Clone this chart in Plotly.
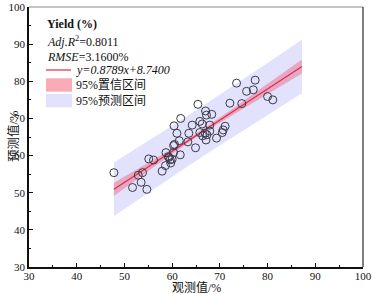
import plotly.graph_objects as go

# ---- data ----
measured = [47.8, 51.7, 52.9, 53.8, 53.5, 54.7, 55.1, 56.1, 57.9, 58.6,
            58.7, 59.2, 59.7, 59.6, 60.3, 60.3, 60.5, 61.7, 61.5, 61.0,
            60.4, 61.8, 63.3, 63.5, 64.2, 64.9, 65.4, 65.8, 66.3, 65.8,
            66.4, 67.0, 67.2, 67.1, 67.9, 68.3, 69.3, 70.5, 70.7, 71.1,
            72.1, 73.5, 74.6, 75.6, 77.0, 77.4, 80.0, 81.1, 59.3, 60.0,
            66.9, 67.9, 67.3]
predicted = [55.4, 51.4, 54.7, 55.4, 52.8, 50.9, 59.1, 58.8, 55.8, 57.3,
             60.8, 59.7, 58.0, 58.9, 60.8, 62.7, 63.0, 60.2, 64.0, 66.0,
             68.0, 70.0, 63.7, 66.0, 68.2, 62.1, 73.8, 69.2, 68.5, 66.2,
             65.3, 72.0, 70.9, 64.2, 68.2, 71.1, 64.7, 66.2, 66.9, 67.9,
             74.1, 79.5, 74.0, 77.3, 77.7, 80.3, 75.9, 75.0, 59.5, 59.0,
             66.0, 66.6, 65.6]

# fitted line as drawn in the picture
fit_slope = 0.84
fit_intercept = 10.75
band_x = [47.8, 52, 56, 60, 64, 68, 72, 76, 80, 84, 87.2]
conf_half = [1.8, 1.4, 1.0, 0.7, 0.55, 0.6, 0.8, 1.1, 1.4, 1.7, 1.9]
pred_half = [7.2, 7.0, 6.9, 6.85, 6.8, 6.8, 6.85, 6.9, 7.0, 7.1, 7.2]

x_ticks = [30, 40, 50, 60, 70, 80, 90, 100]
y_ticks = [30, 40, 50, 60, 70, 80, 90, 100]

stat_title = "Yield (%)"
adj_r2 = "0.8011"
rmse = "3.1600%"
equation = "y=0.8789x+8.7400"
conf_label = "95%置信区间"
pred_label = "95%预测区间"
x_title = "观测值/%"
y_title = "预测值/%"

# ---- derived ----
fit_y = [fit_slope * v + fit_intercept for v in band_x]
pred_lo = [f - h for f, h in zip(fit_y, pred_half)]
pred_hi = [f + h for f, h in zip(fit_y, pred_half)]
conf_lo = [f - h for f, h in zip(fit_y, conf_half)]
conf_hi = [f + h for f, h in zip(fit_y, conf_half)]

PRED_COL = "rgba(226,226,252,1)"
CONF_COL = "rgba(235,85,120,0.42)"
LINE_COL = "#E8283C"
SERIF = "Liberation Serif, Times New Roman, Noto Sans CJK SC, serif"
CJK = "Liberation Serif, Noto Sans CJK SC, serif"

fig = go.Figure()
fig.add_trace(go.Scatter(x=band_x + band_x[::-1], y=pred_hi + pred_lo[::-1],
                         fill="toself", fillcolor=PRED_COL, line=dict(width=0),
                         mode="lines", hoverinfo="skip", showlegend=False))
fig.add_trace(go.Scatter(x=band_x + band_x[::-1], y=conf_hi + conf_lo[::-1],
                         fill="toself", fillcolor=CONF_COL, line=dict(width=0),
                         mode="lines", hoverinfo="skip", showlegend=False))
fig.add_trace(go.Scatter(x=band_x, y=fit_y, mode="lines",
                         line=dict(color=LINE_COL, width=1.2), showlegend=False))
fig.add_trace(go.Scatter(x=measured, y=predicted, mode="markers",
                         marker=dict(symbol="circle-open", size=8,
                                     color="#3a3a4a", line=dict(width=1)),
                         showlegend=False))

W, H = 373, 294
# plot-area edges in page pixels
AX_L, AX_R, AX_T, AX_B = 29, 363, 7, 267
PL, PR, PT, PB = AX_L, W - AX_R, AX_T, H - AX_B
pw = W - PL - PR
ph = H - PT - PB


def xp(px):
    return (px - AX_L) / pw


def yp(py):
    return (AX_B - py) / ph


shapes = [
    dict(type="line", xref="paper", yref="paper", x0=0, x1=1, y0=1, y1=1,
         line=dict(color="#8a8a8a", width=1.2)),
    dict(type="line", xref="paper", yref="paper", x0=1, x1=1, y0=0, y1=1,
         line=dict(color="#555555", width=1.5)),
    dict(type="line", xref="paper", yref="paper", x0=xp(46), x1=xp(71),
         y0=yp(70), y1=yp(70), line=dict(color=LINE_COL, width=1.2)),
    dict(type="rect", xref="paper", yref="paper", x0=xp(46), x1=xp(72),
         y0=yp(91.7), y1=yp(78.3), line=dict(width=0),
         fillcolor="rgba(250,172,182,1)"),
    dict(type="rect", xref="paper", yref="paper", x0=xp(46), x1=xp(72),
         y0=yp(107.3), y1=yp(94), line=dict(width=0), fillcolor=PRED_COL),
]

ann_font = dict(family=SERIF, size=12, color="#111111")
annotations = [
    dict(text=f"<b>{stat_title}</b>", x=xp(45), y=yp(24)),
    dict(text=f"<i>Adj.R</i><sup>2</sup>={adj_r2}", x=xp(45), y=yp(41.5)),
    dict(text=f"<i>RMSE</i>={rmse}", x=xp(45), y=yp(56.5)),
    dict(text=f"<i>{equation}</i>", x=xp(73.5), y=yp(70)),
    dict(text=conf_label, x=xp(74), y=yp(85)),
    dict(text=pred_label, x=xp(74), y=yp(100.5)),
]
for a in annotations:
    a.update(xref="paper", yref="paper", xanchor="left", yanchor="middle",
             showarrow=False, font=ann_font)

annotations.append(dict(text=x_title, xref="paper", yref="paper", x=xp(196),
                        y=yp(287.5), xanchor="center", yanchor="middle",
                        showarrow=False, borderpad=0,
                        font=dict(family=CJK, size=12, color="#111111")))
annotations.append(dict(text=y_title, xref="paper", yref="paper", x=xp(13),
                        y=yp(137), xanchor="center", yanchor="middle",
                        textangle=-90, showarrow=False,
                        font=dict(family=CJK, size=12.5, color="#111111")))

axis_common = dict(
    showgrid=False, zeroline=False, showline=True, linecolor="#111111",
    linewidth=1.5, ticks="inside", ticklen=4, tickwidth=1.2,
    tickcolor="#111111", mirror=False, ticklabeloverflow="allow",
    tickfont=dict(family=SERIF, size=11, color="#111111"),
    minor=dict(ticks="inside", ticklen=2.5, tickwidth=1, tickcolor="#111111",
               dtick=5, showgrid=False),
)

fig.update_layout(
    width=W, height=H,
    margin=dict(l=PL, r=PR, t=PT, b=PB, autoexpand=False),
    paper_bgcolor="white", plot_bgcolor="white",
    xaxis=dict(range=[30, 100], tickvals=x_ticks, ticktext=[str(v) for v in x_ticks],
               ticklabelstandoff=-2, **axis_common),
    yaxis=dict(range=[30, 100], tickvals=y_ticks, ticktext=[str(v) for v in y_ticks],
               **axis_common),
    shapes=shapes, annotations=annotations, showlegend=False,
)

fig.write_html("out.html", config={"displayModeBar": False},
               post_script="document.body.style.margin='0';document.body.style.overflow='hidden';")
